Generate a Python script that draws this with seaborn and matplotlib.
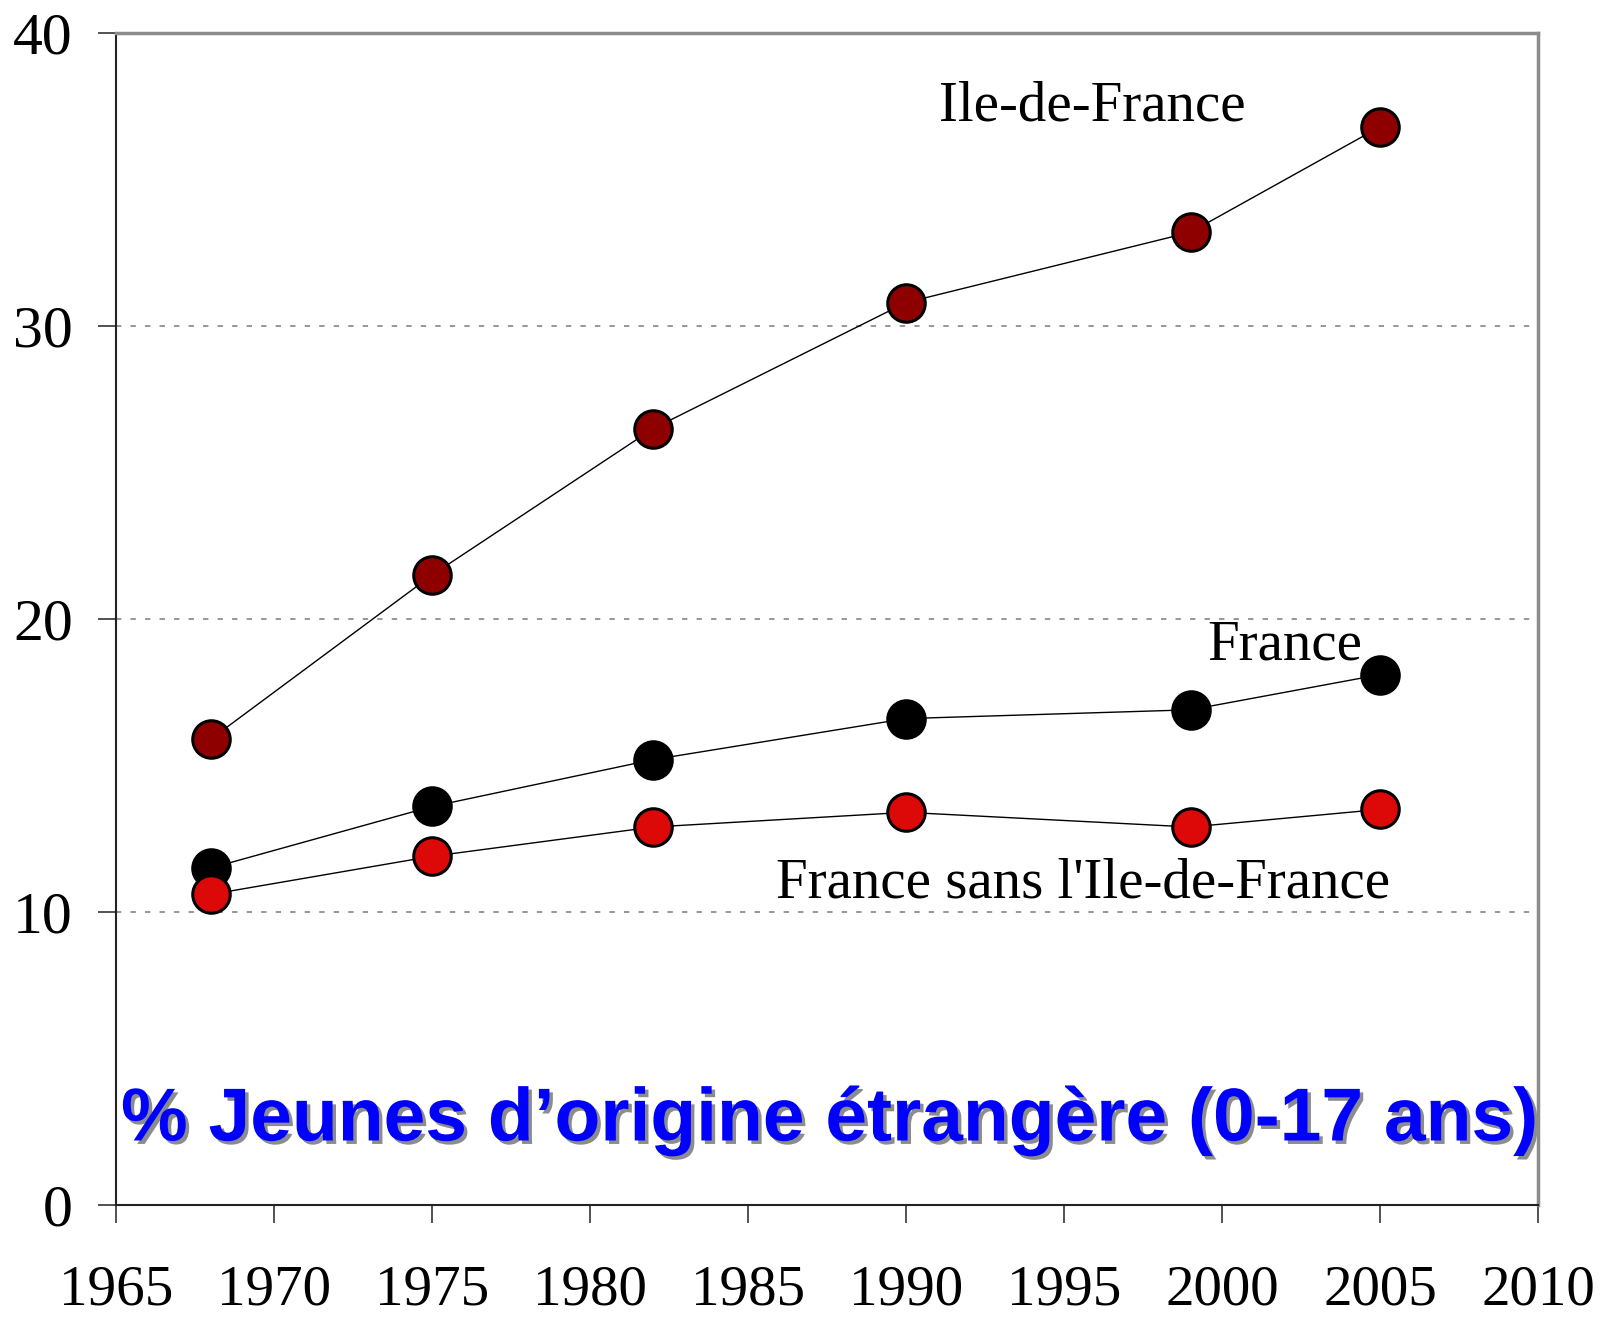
import matplotlib
matplotlib.use("Agg")
import matplotlib.pyplot as plt
import matplotlib.patheffects as pe
import seaborn as sns
import pandas as pd

years = [1968, 1975, 1982, 1990, 1999, 2005]
idf = [15.9, 21.5, 26.5, 30.8, 33.2, 36.8]
france = [11.5, 13.6, 15.2, 16.6, 16.9, 18.1]
sans_idf = [10.6, 11.9, 12.9, 13.4, 12.9, 13.5]
series_names = ["Ile-de-France", "France", "France sans l'Ile-de-France"]
marker_colors = ["#8E0000", "#000000", "#DD0808"]
x_ticks = [1965, 1970, 1975, 1980, 1985, 1990, 1995, 2000, 2005, 2010]
y_ticks = [0, 10, 20, 30, 40]
title = "% Jeunes d\u2019origine étrangère (0-17 ans)"

sns.set_style("white")
plt.rcParams["font.family"] = ["Liberation Serif", "DejaVu Serif"]
plt.rcParams["text.color"] = "black"
plt.rcParams["xtick.color"] = "black"
plt.rcParams["ytick.color"] = "black"

df = pd.DataFrame({
    "year": years * 3,
    "value": idf + france + sans_idf,
    "series": [n for n in series_names for _ in years],
})

fig = plt.figure(figsize=(16.14, 13.26), dpi=100)
ax = fig.add_axes([0.0719, 0.0913, 0.9530 - 0.0719, 0.9751 - 0.0913])

for name, mc in zip(series_names, marker_colors):
    sub = df[df["series"] == name]
    sns.lineplot(data=sub, x="year", y="value", ax=ax, color="black", lw=1.0,
                 marker="o", markersize=27, markerfacecolor=mc,
                 markeredgecolor="black", markeredgewidth=2.2, legend=False,
                 zorder=3)

ax.set_xlim(1965, 2010)
ax.set_ylim(0, 40)
ax.set_xticks(x_ticks)
ax.set_yticks(y_ticks)
ax.set_xticklabels([str(t) for t in x_ticks], fontsize=41, color="black")
ax.set_yticklabels([str(t) for t in y_ticks], fontsize=43, color="black")
ax.set_xlabel("")
ax.set_ylabel("")

ax.grid(axis="y", linestyle=(0, (3.5, 6)), color="#7A7A7A", lw=1.1)
ax.grid(axis="x", visible=False)

ax.tick_params(axis="x", direction="out", length=13, width=1.2, color="#333333", pad=30, bottom=True)
ax.tick_params(axis="y", direction="out", length=13, width=1.2, color="#333333", pad=18, left=True)

for side in ["left", "bottom"]:
    ax.spines[side].set_color("#222222")
    ax.spines[side].set_linewidth(1.5)
for side in ["top", "right"]:
    ax.spines[side].set_color("#8C8C8C")
    ax.spines[side].set_linewidth(2.5)
    ax.spines[side].set_visible(True)

ax.text(1995.9, 37.0, "Ile-de-France", fontsize=41, ha="center", va="baseline", color="black")
ax.text(2002.0, 18.6, "France", fontsize=41, ha="center", va="baseline", color="black")
ax.text(1995.6, 10.5, "France sans l'Ile-de-France", fontsize=41, ha="center", va="baseline", color="black")

ax.text(1987.6, 2.2, title, fontsize=54, fontweight="bold", color="#0000FF",
        family=["Liberation Sans", "DejaVu Sans"], ha="center", va="baseline",
        path_effects=[pe.withSimplePatchShadow(offset=(2.5, -2.5), shadow_rgbFace="#8C8C8C", alpha=1.0)])

fig.savefig("out.png", dpi=100)
